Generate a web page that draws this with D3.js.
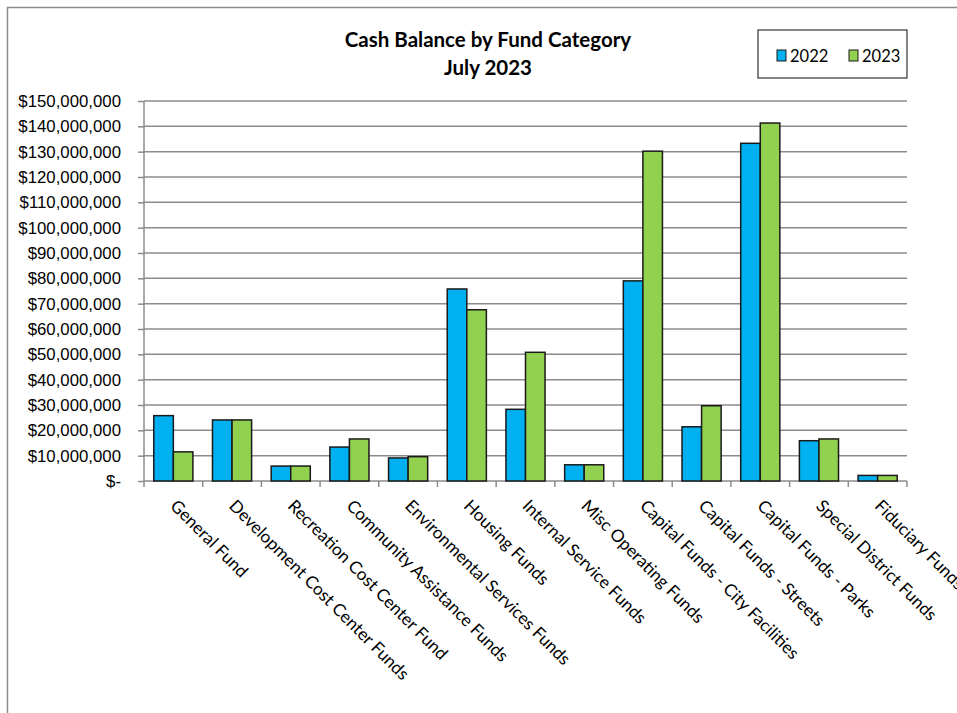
<!DOCTYPE html>
<html>
<head>
    <title>Cash Balance by Fund Category</title>
    <script src="https://d3js.org/d3.v7.min.js"></script>
    <style>
        body { margin: 0; background: #fff; }
        svg { display: block; font-family: Lato, "Open Sans", sans-serif; }
        .grid line { stroke: #8c8c8c; stroke-width: 1.5; }
        .axis path, .axis line { stroke: #8c8c8c; stroke-width: 1.5; }
        .axis text { fill: #000; font-size: 16.8px; }
        rect.bar { stroke: #1a1a1a; stroke-width: 1.5; }
    </style>
</head>
<body>
<svg width="957" height="713"></svg>
<script>
    let categories = ['General Fund', 'Development Cost Center Funds', 'Recreation Cost Center Fund',
        'Community Assistance Funds', 'Environmental Services Funds', 'Housing Funds',
        'Internal Service Funds', 'Misc Operating Funds', 'Capital Funds - City Facilities',
        'Capital Funds - Streets', 'Capital Funds - Parks', 'Special District Funds', 'Fiduciary Funds'];
    let values2022 = [25.8, 24.1, 5.9, 13.4, 9.1, 75.8, 28.3, 6.4, 79.0, 21.4, 133.3, 15.9, 2.2];
    let values2023 = [11.5, 24.1, 5.9, 16.6, 9.6, 67.6, 50.8, 6.4, 130.2, 29.7, 141.3, 16.6, 2.2];
    let series = ['2022', '2023'];
    let colors = ['#00b0f0', '#92d050'];
    let yTicks = d3.range(0, 151, 10);

    let svg = d3.select('svg');
    let margin = {top: 101, left: 144, right: 50, bottom: 232};
    let width = 957 - margin.left - margin.right;
    let height = 713 - margin.top - margin.bottom;

    // chart border
    svg.append('rect')
        .attr('x', 7.5).attr('y', 7.5)
        .attr('width', 970).attr('height', 720)
        .attr('fill', 'none').attr('stroke', '#8c8c8c').attr('stroke-width', 1.5);

    let g = svg.append('g').attr('transform', `translate(${margin.left},${margin.top})`);

    let x = d3.scaleBand().domain(categories).range([0, width]);
    let x1 = d3.scaleBand().domain(series).range([x.bandwidth() / 6, x.bandwidth() * 5 / 6]);
    let y = d3.scaleLinear().domain([0, 150]).range([height, 0]);

    g.append('g').attr('class', 'grid')
        .selectAll('line')
        .data(yTicks.filter(d => d > 0))
        .join('line')
        .attr('x1', 0).attr('x2', width)
        .attr('y1', d => y(d)).attr('y2', d => y(d));

    let fmt = d => d === 0 ? '$-' : '$' + d3.format(',')(d * 1000000);
    let yAxis = g.append('g').attr('class', 'axis')
        .call(d3.axisLeft(y).tickValues(yTicks).tickFormat(fmt).tickSize(6).tickPadding(17));
    yAxis.select('.domain').attr('d', `M0,0V${height}`);

    let xAxis = g.append('g').attr('class', 'axis')
        .attr('transform', `translate(0,${height})`)
        .call(d3.axisBottom(x).tickSize(0).tickFormat(''));
    xAxis.select('.domain').attr('d', `M0,0H${width}`);
    xAxis.selectAll('.edge')
        .data(d3.range(categories.length + 1))
        .join('line')
        .attr('x1', i => i * x.step()).attr('x2', i => i * x.step())
        .attr('y1', 0).attr('y2', 6);

    let groups = g.selectAll('.grp')
        .data(categories)
        .join('g')
        .attr('transform', d => `translate(${x(d)},0)`);

    groups.selectAll('rect')
        .data((d, i) => [values2022[i], values2023[i]].map((v, k) => ({s: series[k], v: v, k: k})))
        .join('rect')
        .attr('class', 'bar')
        .attr('x', d => x1(d.s))
        .attr('width', x1.bandwidth())
        .attr('y', d => y(d.v))
        .attr('height', d => height - y(d.v))
        .attr('fill', d => colors[d.k]);

    g.selectAll('.xlab')
        .data(categories)
        .join('text')
        .attr('class', 'xlab')
        .attr('transform', d => `translate(${x(d) + x.bandwidth() / 2 - 4},${height + 26}) rotate(45)`)
        .attr('font-size', 17.2)
        .text(d => d);

    // title
    svg.append('text').attr('x', 488).attr('y', 47).attr('text-anchor', 'middle')
        .attr('font-weight', 'bold').attr('font-size', 20.5).text('Cash Balance  by Fund Category');
    svg.append('text').attr('x', 488).attr('y', 75).attr('text-anchor', 'middle')
        .attr('font-weight', 'bold').attr('font-size', 20.5).text('July 2023');

    // legend
    let leg = svg.append('g').attr('transform', 'translate(758,30)');
    leg.append('rect').attr('width', 149).attr('height', 48)
        .attr('fill', '#fff').attr('stroke', '#333').attr('stroke-width', 1.2);
    series.forEach((s, i) => {
        let lx = 19 + i * 72;
        leg.append('rect').attr('x', lx).attr('y', 20).attr('width', 9).attr('height', 11)
            .attr('fill', colors[i]).attr('stroke', '#1a1a1a').attr('stroke-width', 1);
        leg.append('text').attr('x', lx + 13).attr('y', 31.5).attr('font-size', 16.5).text(s);
    });
</script>
</body>
</html>
